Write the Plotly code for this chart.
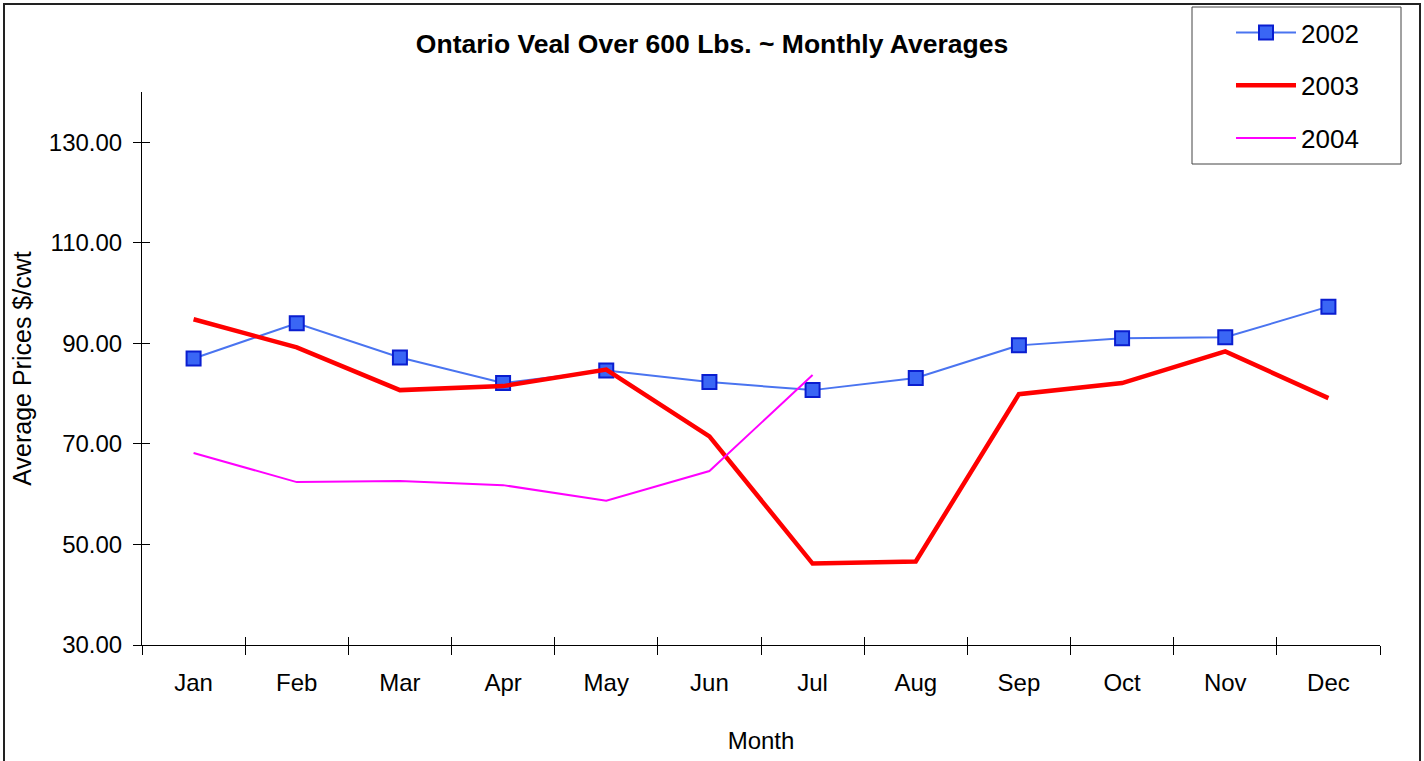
import plotly.graph_objects as go

months = ["Jan", "Feb", "Mar", "Apr", "May", "Jun", "Jul", "Aug", "Sep", "Oct", "Nov", "Dec"]
prices_2002 = [87.0, 94.0, 87.2, 82.1, 84.6, 82.3, 80.7, 83.1, 89.6, 91.0, 91.2, 97.3]
prices_2003 = [94.8, 89.2, 80.7, 81.5, 84.8, 71.5, 46.2, 46.6, 79.9, 82.1, 88.4, 79.1]
prices_2004 = [68.2, 62.4, 62.6, 61.8, 58.7, 64.6, 83.7]
y_ticks = [30, 50, 70, 90, 110, 130]

FONT = "Liberation Sans, Arial, sans-serif"
W, H = 1424, 761
L, R, T, B = 142, 44, 92, 116
PW, PH = W - L - R, H - T - B


def px_x(p):
    return (p - L) / PW


def px_y(p):
    return (H - B - p) / PH


fig = go.Figure()
fig.add_trace(go.Scatter(
    x=months, y=prices_2002, name="2002", mode="lines+markers",
    line=dict(color="#4A74F0", width=2),
    marker=dict(symbol="square", size=14, color="#3A66F5",
                line=dict(color="#0A1ED0", width=2)),
    legendgroup="a"))
fig.add_trace(go.Scatter(
    x=months, y=prices_2003, name="2003", mode="lines",
    line=dict(color="#FF0000", width=4.5), legendgroup="b"))
fig.add_trace(go.Scatter(
    x=months[:len(prices_2004)], y=prices_2004, name="2004", mode="lines",
    line=dict(color="#FF00FF", width=2), legendgroup="c"))
# invisible helper trace so the overlay axes (inner half of the tick marks) are drawn
fig.add_trace(go.Scatter(
    x=months, y=prices_2002, xaxis="x2", yaxis="y2", mode="lines",
    line=dict(width=0), opacity=0, showlegend=False, hoverinfo="skip"))

fig.update_layout(
    width=W, height=H,
    paper_bgcolor="white", plot_bgcolor="white",
    margin=dict(l=L, r=R, t=T, b=B, autoexpand=False),
    font=dict(family=FONT, size=24, color="black"),
    title=dict(text="<b>Ontario Veal Over 600 Lbs. ~ Monthly Averages</b>",
               x=0.5, xanchor="center", y=1 - 44 / H, yanchor="middle",
               font=dict(size=26.5)),
    legend=dict(xref="container", yref="container",
                x=1231 / W, y=1 - 9 / H, xanchor="left", yanchor="top",
                borderwidth=0, bgcolor="rgba(0,0,0,0)",
                font=dict(size=26), tracegroupgap=16, traceorder="grouped",
                itemwidth=60),
    showlegend=True,
    xaxis=dict(type="category", categoryorder="array", categoryarray=months,
               range=[-0.5, 11.5], tickson="boundaries", ticks="outside", ticklen=9,
               tickcolor="black", showline=True, linecolor="black", linewidth=1,
               showgrid=False, zeroline=False, ticklabelstandoff=16, automargin=False,
               title=dict(text="Month", standoff=37, font=dict(size=24))),
    yaxis=dict(range=[30, 140], tickvals=y_ticks,
               ticktext=[f"{v:.2f}" for v in y_ticks],
               ticks="outside", ticklen=8, tickcolor="black", showline=True,
               linecolor="black", linewidth=1, showgrid=False, zeroline=False,
               ticklabelstandoff=6, automargin=False,
               title=dict(text="Average Prices $/cwt", standoff=10, font=dict(size=25))),
    xaxis2=dict(overlaying="x", type="category", categoryorder="array",
                categoryarray=months, range=[-0.5, 11.5], tickson="boundaries",
                ticks="inside", ticklen=8, tickcolor="black", showticklabels=False,
                showline=False, showgrid=False, zeroline=False, side="bottom",
                anchor="y2", automargin=False),
    yaxis2=dict(overlaying="y", range=[30, 140], tickvals=y_ticks, ticks="inside",
                ticklen=8, tickcolor="black", showticklabels=False, showline=False,
                showgrid=False, zeroline=False, side="left", anchor="x2",
                automargin=False),
)
# outer chart frame
fig.add_shape(type="rect", xref="paper", yref="paper",
              x0=px_x(4), x1=px_x(1420), y0=px_y(770), y1=px_y(4),
              line=dict(color="#222222", width=2), layer="below")
# legend frame
fig.add_shape(type="rect", xref="paper", yref="paper",
              x0=px_x(1192), x1=px_x(1401), y0=px_y(164), y1=px_y(7),
              line=dict(color="#444444", width=1), fillcolor="white", layer="below")

fig.write_html("out.html", config={"displayModeBar": False},
               post_script="document.body.style.margin='0px';")
